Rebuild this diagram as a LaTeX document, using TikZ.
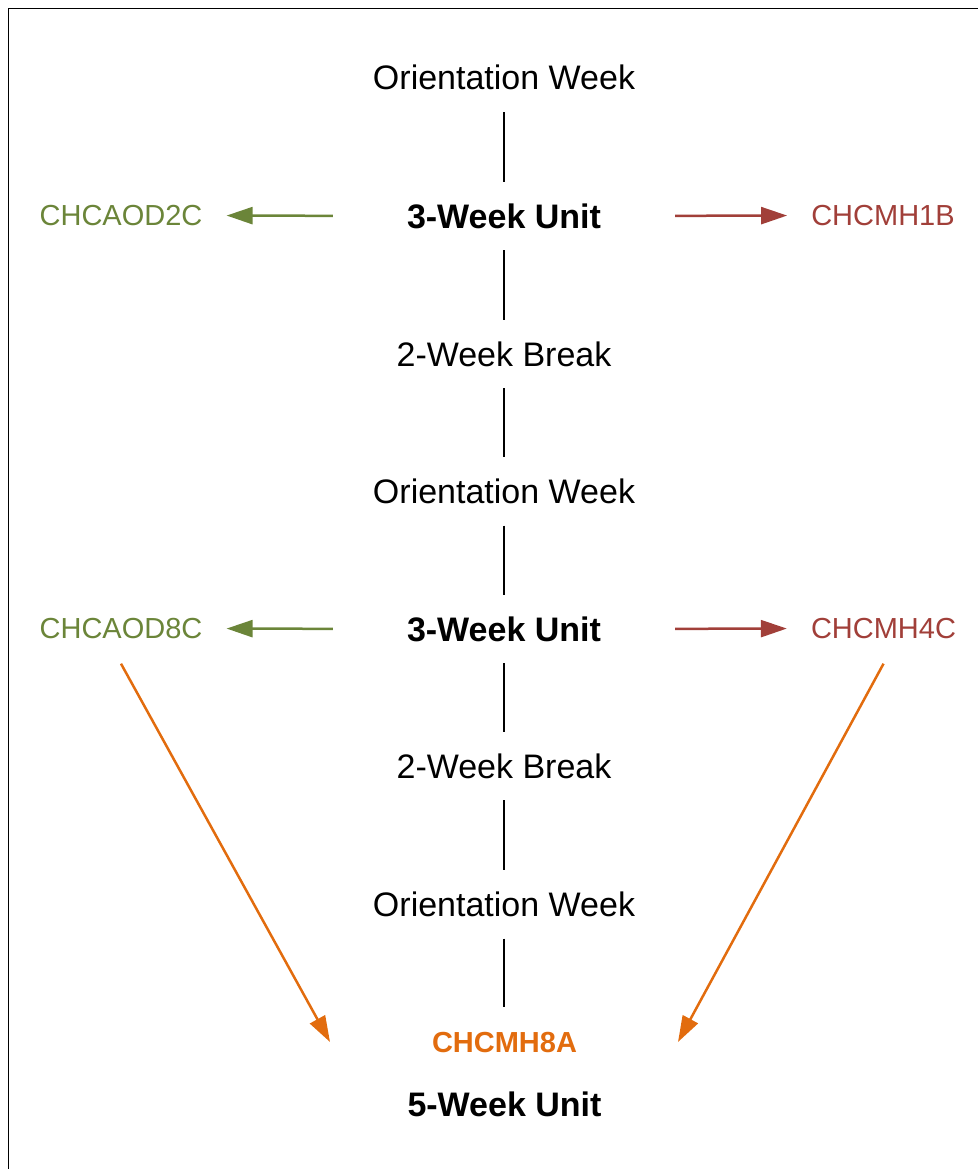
\documentclass[tikz,border=0pt]{standalone}
\usepackage{fontspec}
\setmainfont{Liberation Sans}
\usetikzlibrary{arrows.meta}
\definecolor{cgreen}{RGB}{107,133,57}
\definecolor{cred}{RGB}{161,63,57}
\definecolor{corange}{RGB}{226,108,14}
\begin{document}
\begin{tikzpicture}[x=1pt,y=-1pt,
  big/.style={inner sep=0pt, minimum height=68pt, text height=24pt, text depth=0pt, font=\fontsize{34}{40}\selectfont},
  bigb/.style={big, font=\fontsize{34}{40}\selectfont\bfseries},
  small/.style={inner sep=0pt, minimum height=70pt, text height=20.5pt, text depth=0pt, font=\fontsize{29}{35}\selectfont},
  link/.style={draw=black, line width=1.3pt},
  harrow/.style={line width=2.5pt, -{Triangle[length=26pt,width=17pt]}, shorten <=74pt, shorten >=24pt},
  darrow/.style={line width=2.5pt, draw=corange, -{Triangle[length=26pt,width=17pt]}}
]
\useasboundingbox (0,0) rectangle (977,1169);
\draw[line width=1.4pt] (8.5,1200) -- (8.5,8.5) -- (1000,8.5);

\node[big]  (o1) at (504,78)  {Orientation Week};
\node[bigb] (u1) at (504,216) {3-Week Unit};
\node[big]  (b1) at (504,354) {2-Week Break};
\node[big]  (o2) at (504,491.5) {Orientation Week};
\node[bigb] (u2) at (504,629) {3-Week Unit};
\node[big]  (b2) at (504,766) {2-Week Break};
\node[big]  (o3) at (504,904.5) {Orientation Week};
\node[small, text=corange, font=\fontsize{29}{35}\selectfont\bfseries] (c8a) at (504.5,1042) {CHCMH8A};
\node[bigb] (u5) at (504.5,1104) {5-Week Unit};

\node[small, text=cgreen] (aod2) at (121,215.5) {CHCAOD2C};
\node[small, text=cred]   (mh1b) at (883,215.5) {CHCMH1B};
\node[small, text=cgreen] (aod8) at (121,628.5) {CHCAOD8C};
\node[small, text=cred]   (mh4c) at (883.5,628.5) {CHCMH4C};

\coordinate (tipL) at (330,1042);
\coordinate (tipR) at (678,1042);

\draw[link] (o1) -- (u1);
\draw[link] (u1) -- (b1);
\draw[link] (b1) -- (o2);
\draw[link] (o2) -- (u2);
\draw[link] (u2) -- (b2);
\draw[link] (b2) -- (o3);
\draw[link] (o3.south) -- (o3.south |- c8a.north);

\draw[harrow, draw=cgreen, fill=cgreen] (u1.west) -- (aod2.east);
\draw[harrow, draw=cred, fill=cred] (u1.east) -- (mh1b.west);
\draw[harrow, draw=cgreen, fill=cgreen] (u2.west) -- (aod8.east);
\draw[harrow, draw=cred, fill=cred] (u2.east) -- (mh4c.west);

\draw[darrow, fill=corange] (aod8.south) -- (tipL);
\draw[darrow, fill=corange] (mh4c.south) -- (tipR);
\end{tikzpicture}
\end{document}
